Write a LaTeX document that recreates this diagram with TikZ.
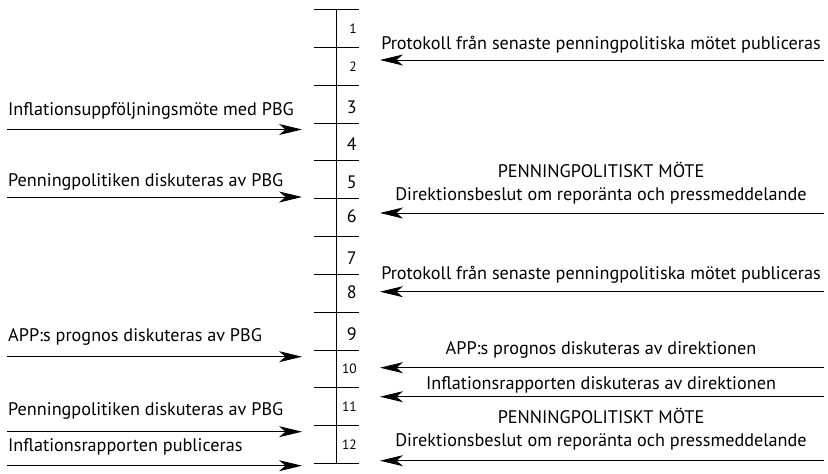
\documentclass[tikz,border=0pt]{standalone}
\usepackage{fontspec}
\setmainfont{PT Sans}
\usetikzlibrary{arrows.meta}

\begin{document}
\begin{tikzpicture}[
    x=1pt, y=-1pt,
    lbl/.style={inner sep=0pt, font=\fontsize{18.2}{21}\selectfont},
    num/.style={inner sep=0pt, anchor=base east},
    numlarge/.style={num, font=\fontsize{18}{20}\selectfont},
    numsmall/.style={num, font=\fontsize{13.5}{15}\selectfont},
    arr/.style={-{Stealth[length=23pt, width=11pt, inset=6.5pt]}, line width=0.8pt}
]
\useasboundingbox (0,0) rectangle (828,474);

% time axis
\coordinate (top) at (336,9.5);
\coordinate (bot) at (336,463.5);
\draw[line width=0.8pt] (top) -- (bot);
\foreach \k in {0,...,12}
    \draw[line width=0.8pt] (314,{9.5+37.83*\k}) -- (359,{9.5+37.83*\k});
\foreach \k/\s/\d in {1/numsmall/5, 2/numsmall/5, 3/numlarge/9, 4/numlarge/9,
    5/numlarge/9, 6/numlarge/5.3, 7/numlarge/9, 8/numlarge/5.3, 9/numlarge/9,
    10/numsmall/5, 11/numsmall/5, 12/numsmall/5}
    \node[\s] (n\k) at (357,{9.5+37.83*(\k-0.5)+\d}) {\k};

% PBG (left side)
\node[lbl, anchor=base west] (l1) at (8,115) {Inflationsuppföljningsmöte med PBG};
\node[lbl, anchor=base west] (l2) at (8,186.5) {Penningpolitiken diskuteras av PBG};
\node[lbl, anchor=base west] (l3) at (8,341.7) {APP:s prognos diskuteras av PBG};
\node[lbl, anchor=base west] (l4) at (8,415) {Penningpolitiken diskuteras av PBG};
\node[lbl, anchor=base west] (l5) at (8,451.7) {Inflationsrapporten publiceras};
\coordinate (l1s) at (7,129.5);   \coordinate (l1e) at (302,129.5);
\coordinate (l2s) at (7,197);     \coordinate (l2e) at (302,197);
\coordinate (l3s) at (7,356.7);   \coordinate (l3e) at (302,356.7);
\coordinate (l4s) at (7,431.7);   \coordinate (l4e) at (302,431.7);
\coordinate (l5s) at (7,465.7);   \coordinate (l5e) at (302,465.7);
\foreach \i in {1,...,5}
    \draw[arr] (l\i s) -- (l\i e);

% direktionen (right side)
\node[lbl, anchor=base] (r1) at (601,49) {Protokoll från senaste penningpolitiska mötet publiceras};
\node[lbl, anchor=base] (r2a) at (601,177) {PENNINGPOLITISKT MÖTE};
\node[lbl, anchor=base] (r2b) at (601,200) {Direktionsbeslut om reporänta och pressmeddelande};
\node[lbl, anchor=base] (r3) at (601,279) {Protokoll från senaste penningpolitiska mötet publiceras};
\node[lbl, anchor=base] (r4) at (601,354) {APP:s prognos diskuteras av direktionen};
\node[lbl, anchor=base] (r5) at (601,389) {Inflationsrapporten diskuteras av direktionen};
\node[lbl, anchor=base] (r6a) at (601,423.3) {PENNINGPOLITISKT MÖTE};
\node[lbl, anchor=base] (r6b) at (601,446.7) {Direktionsbeslut om reporänta och pressmeddelande};
\coordinate (r1s) at (824,60);    \coordinate (r1e) at (380,60);
\coordinate (r2s) at (824,213);   \coordinate (r2e) at (380,213);
\coordinate (r3s) at (824,291.7); \coordinate (r3e) at (380,291.7);
\coordinate (r4s) at (824,367.7); \coordinate (r4e) at (380,367.7);
\coordinate (r5s) at (824,396.7); \coordinate (r5e) at (380,396.7);
\coordinate (r6s) at (824,460.7); \coordinate (r6e) at (380,460.7);
\foreach \i in {1,...,6}
    \draw[arr] (r\i s) -- (r\i e);
\end{tikzpicture}
\end{document}
